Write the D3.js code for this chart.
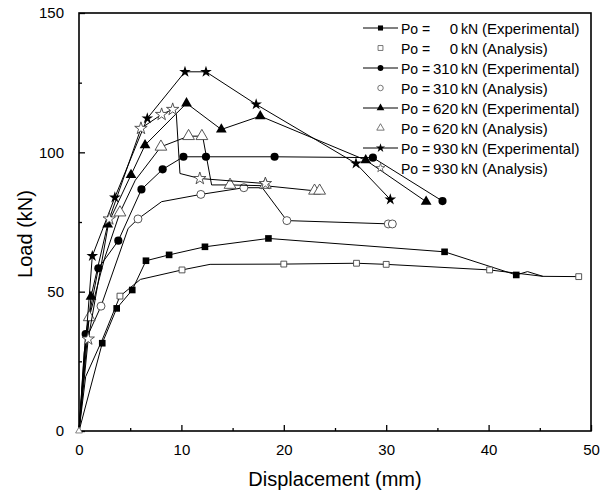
<!DOCTYPE html>
<html>
<head>
<meta charset="utf-8">
<script src="https://cdn.jsdelivr.net/npm/d3@7"></script>
<style>
  body { margin: 0; background: #fff; }
  text { font-family: Arial, "Liberation Sans", sans-serif; fill: #000; }
</style>
</head>
<body>
<div id="chart"></div>
<script>
// [displacement mm, load kN]
var exp0 = [[0,0],[2.27,31.5],[3.68,44],[5.2,50.6],[6.54,61.1],[8.8,63.2],[12.3,66.1],[18.5,69.1],[35.7,64.3],[42.7,56]];
var exp0Tail = [[43.8,57.2],[45.3,55.5]];
var ana0Line = [[0,0],[0.65,19.5],[2.3,33],[4.0,48.4],[6.0,54.4],[10.06,57.8],[12.8,59.8],[20,59.9],[27.1,60.2],[30,59.8],[40.1,57.8],[45.3,55.5],[48.8,55.4]];
var ana0Marks = [[4.0,48.4],[10.06,57.8],[20,59.9],[27.1,60.2],[30,59.8],[40.1,57.8],[48.8,55.4]];

var exp310 = [[0,0],[0.65,34.8],[1.89,58.4],[3.84,68.3],[6.1,86.7],[8.17,93.9],[10.2,98.4],[12.4,98.4],[19.1,98.4],[28.7,98.1],[35.5,82.5]];
var ana310Line = [[0,0],[0.7,33],[2.15,44.8],[4.8,72.7],[5.76,76.1],[8.07,82.3],[11.9,84.9],[16.1,87.3],[17.9,87.3],[20.3,75.5],[30.5,74.3]];
var ana310Marks = [[2.15,44.8],[5.76,76.1],[11.9,84.9],[16.1,87.3],[20.3,75.5],[30.2,74.3],[30.6,74.3]];

var exp620 = [[0,0],[1.17,48.2],[2.8,74.1],[5.08,91.9],[6.45,102.6],[10.5,117.6],[13.9,108.2],[17.7,113],[28.0,97.2],[33.9,82.3]];
var ana620Line = [[0,0],[0.5,28],[1.0,40.8],[2.5,62],[4.0,78.4],[5.5,90],[8.0,102],[10.7,105.8],[12.0,105.8],[12.1,105.3],[12.95,88.3],[14.75,88.3],[18.2,88.0],[23.0,86.2],[23.5,86.2]];
var ana620Marks = [[1.0,40.8],[4.0,78.4],[8.0,102],[10.7,105.8],[12.0,105.8],[14.75,88.3],[18.2,88.3],[23.0,86.2],[23.5,86.2]];

var exp930 = [[0,0],[1.3,62.8],[3.5,83.8],[6.67,112.2],[10.35,128.9],[12.4,128.9],[17.3,117.2],[27.05,96],[30.4,83.1]];
var ana930Line = [[0,0],[0.9,33],[2.96,76.1],[6.05,108.6],[8.07,113.6],[9.15,115.4],[9.5,114],[9.86,92.4],[11.8,90.6],[18.2,88.8]];
var ana930Marks = [[0.9,33],[2.96,76.1],[6.05,108.6],[8.07,113.6],[9.15,115.4],[11.8,90.6],[18.2,88.8]];

var loads = ["0", "310", "620", "930"];
var xTicks = [0, 10, 20, 30, 40, 50];
var yTicks = [0, 50, 100, 150];

var svgWidth = 610;
var svgHeight = 496;
var margin = { top: 13, right: 19, bottom: 65, left: 79 };
var width = svgWidth - margin.left - margin.right;
var height = svgHeight - margin.top - margin.bottom;

var svg = d3.select("#chart")
  .append("svg")
  .attr("width", svgWidth)
  .attr("height", svgHeight);

var chartGroup = svg.append("g")
  .attr("transform", `translate(${margin.left}, ${margin.top})`);

var x = d3.scaleLinear().domain([0, 50]).range([0, width]);
var y = d3.scaleLinear().domain([0, 150]).range([height, 0]);

// ticks point inward, minor ones shorter
function drawAxis(axis, tr) {
  var g = chartGroup.append("g").attr("transform", tr).call(axis);
  g.select(".domain").remove();
  g.selectAll("line").attr("stroke", "#000").attr("stroke-width", 1.3);
  g.selectAll("text").attr("font-size", 15).attr("font-family", "Arial, 'Liberation Sans', sans-serif");
  return g;
}
drawAxis(d3.axisBottom(x).tickValues(d3.range(5, 50, 10)).tickSize(-3).tickFormat(""), `translate(0, ${height})`);
drawAxis(d3.axisBottom(x).tickValues(xTicks).tickSize(-6).tickPadding(13), `translate(0, ${height})`);
drawAxis(d3.axisLeft(y).tickValues([25, 75, 125]).tickSize(-3).tickFormat(""), "translate(0,0)");
drawAxis(d3.axisLeft(y).tickValues(yTicks).tickSize(-6).tickPadding(15), "translate(0,0)");

// frame
chartGroup.append("rect")
  .attr("width", width)
  .attr("height", height)
  .attr("fill", "none")
  .attr("stroke", "#000")
  .attr("stroke-width", 1.6);

var line = d3.line().x(d => x(d[0])).y(d => y(d[1]));

var shapes = [d3.symbolSquare, d3.symbolCircle, d3.symbolTriangle, d3.symbolStar];
var plotSize = [44, 52, 50, 42];
var openSize = [34, 50, 60, 48];

var series = [
  { line: exp0.concat(exp0Tail), marks: exp0.slice(1), exp: true },
  { line: ana0Line, marks: ana0Marks, exp: false },
  { line: exp310, marks: exp310.slice(1), exp: true },
  { line: ana310Line, marks: ana310Marks, exp: false },
  { line: exp620, marks: exp620.slice(1), exp: true },
  { line: ana620Line, marks: ana620Marks, exp: false },
  { line: exp930, marks: exp930.slice(1), exp: true },
  { line: ana930Line, marks: ana930Marks, exp: false }
];

series.forEach(function(s, i) {
  var k = Math.floor(i / 2);
  chartGroup.append("path")
    .attr("d", line(s.line))
    .attr("fill", "none")
    .attr("stroke", "#000")
    .attr("stroke-width", 1);

  chartGroup.selectAll(null)
    .data(s.marks)
    .enter()
    .append("path")
    .attr("transform", d => `translate(${x(d[0])}, ${y(d[1])})`)
    .attr("d", d3.symbol().type(shapes[k]).size(s.exp ? plotSize[k] : openSize[k]))
    .attr("fill", s.exp ? "#000" : "#fff")
    .attr("stroke", s.exp ? "none" : "#444")
    .attr("stroke-width", 0.9);
});

// small open mark sitting at the origin
chartGroup.append("path")
  .attr("transform", `translate(${x(0)}, ${y(0)})`)
  .attr("d", d3.symbol().type(d3.symbolTriangle).size(20))
  .attr("fill", "#fff").attr("stroke", "#666").attr("stroke-width", 0.8);

// legend
var legend = svg.append("g").attr("transform", "translate(0, 28)");
series.forEach(function(s, i) {
  var k = Math.floor(i / 2);
  var row = legend.append("g").attr("transform", `translate(0, ${i * 20})`);
  if (s.exp) {
    row.append("line")
      .attr("x1", 363).attr("x2", 398)
      .attr("stroke", "#000").attr("stroke-width", 1);
  }
  row.append("path")
    .attr("transform", "translate(380.5, 0)")
    .attr("d", d3.symbol().type(shapes[k]).size(s.exp ? 26 : 24))
    .attr("fill", s.exp ? "#000" : "#fff")
    .attr("stroke", s.exp ? "none" : "#555")
    .attr("stroke-width", 0.8);
  row.append("text").attr("x", 401).attr("y", 5.5).attr("font-size", 14).text("Po =");
  row.append("text").attr("x", 458).attr("y", 5.5).attr("font-size", 15)
    .attr("text-anchor", "end").text(loads[k]);
  row.append("text").attr("x", 461).attr("y", 5.5).attr("font-size", 14).text("kN");
  row.append("text").attr("x", 482).attr("y", 5.5).attr("font-size", 15)
    .text(s.exp ? "(Experimental)" : "(Analysis)");
});

// axis titles
svg.append("text")
  .attr("x", margin.left + width / 2)
  .attr("y", 486)
  .attr("text-anchor", "middle")
  .attr("font-size", 20)
  .text("Displacement (mm)");

svg.append("text")
  .attr("transform", "translate(32, 234) rotate(-90)")
  .attr("text-anchor", "middle")
  .attr("font-size", 20)
  .text("Load (kN)");
</script>
</body>
</html>
